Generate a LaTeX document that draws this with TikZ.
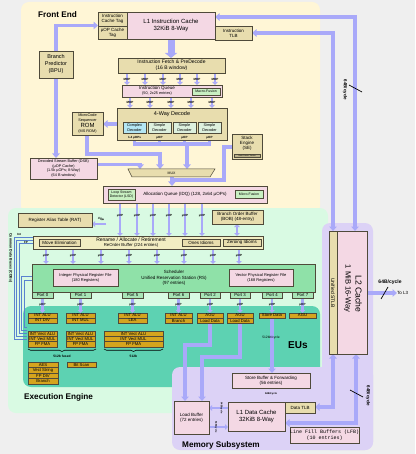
\documentclass[tikz,border=0pt]{standalone}
\usepackage{fontspec}
\setmainfont{Liberation Sans}
\newfontfamily\lfbmono{Liberation Mono}
\usetikzlibrary{arrows.meta,decorations.pathreplacing,calc}
\definecolor{bgc}{HTML}{EFEFEF}
\definecolor{fec}{HTML}{FFF6D6}
\definecolor{eec}{HTML}{D9FAE3}
\definecolor{euc}{HTML}{5DD2B2}
\definecolor{memc}{HTML}{DCD2F6}
\definecolor{tanc}{HTML}{E8DDAE}
\definecolor{pinkc}{HTML}{F4D8E4}
\definecolor{grnc}{HTML}{C8EFC2}
\definecolor{cyanc}{HTML}{B4E6F4}
\definecolor{simc}{HTML}{DDF0DE}
\definecolor{robc}{HTML}{F2EDC2}
\definecolor{schedc}{HTML}{8FE1A8}
\definecolor{portc}{HTML}{A9E5B7}
\definecolor{goldc}{HTML}{D5A41E}
\definecolor{busc}{HTML}{A9A9F9}
\definecolor{linec}{HTML}{4F4A3A}
\definecolor{cdbc}{HTML}{5A82CF}
\newcommand\fs[2]{\fontsize{#1}{#2}\selectfont}
\newcommand\bx[7]{\node[#6,minimum width={(#4)-(#2)},minimum height={(#5)-(#3)}] (#1) at ({((#2)+(#4))/2},{((#3)+(#5))/2}) {#7};}
\pgfdeclarelayer{panels}
\pgfdeclarelayer{lines}
\pgfsetlayers{panels,lines,main}
\begin{document}
\begin{tikzpicture}[x=1pt,y=-1pt,
  box/.style={draw=linec,line width=0.5pt,inner sep=0pt,outer sep=0pt,align=center,font=\fs{4.5}{5}},
  tan/.style={box,fill=tanc},
  pnk/.style={box,fill=pinkc},
  grn/.style={box,fill=grnc,font=\fs{3.5}{4}},
  eub/.style={box,fill=goldc,font=\fs{4.2}{4.5}},
  portb/.style={box,fill=portc,font=\fs{4.3}{4.5}},
  lbl/.style={inner sep=0pt,outer sep=0pt,align=center,font=\fs{4.5}{5}},
  tinylbl/.style={inner sep=0pt,font=\fs{3}{3}\bfseries},
  ttl/.style={inner sep=0pt,anchor=west,font=\fs{8.2}{9}\bfseries},
  bus/.style={draw=busc,line width=3.2pt},
  bar/.style={bus,-{Triangle[width=7.5pt,length=4.5pt]}},
  bbar/.style={bus,{Triangle[width=7.5pt,length=4.5pt]}-{Triangle[width=7.5pt,length=4.5pt]}},
  mop/.style={draw=busc,line width=2.6pt,-{Triangle[width=5.5pt,length=3pt]}},
  bmop/.style={draw=busc,line width=2.6pt,{Triangle[width=5.5pt,length=3pt]}-{Triangle[width=5.5pt,length=3pt]}},
  cdb/.style={draw=cdbc,line width=0.45pt},
  slash/.style={draw=black,line width=0.7pt}]
\useasboundingbox (0,0) rectangle (415,454);
\begin{pgfonlayer}{panels}
\fill[bgc] (0,0) rectangle (415,454);
\fill[fec,rounded corners=8pt] (21,2) rectangle (320,214);
\fill[eec,rounded corners=8pt] (8,208) rectangle (328,413);
\fill[euc,rounded corners=8pt] (23,306) rectangle (320,387);
\fill[memc,rounded corners=8pt] (322,223) rectangle (373,450);
\fill[memc,rounded corners=8pt] (172,367) rectangle (373,450);
\end{pgfonlayer}

% ---------------- Front End ----------------
\node[ttl] (fetitle) at (38,15) {Front End};
\bx{ictag}{98}{12}{127}{26}{tan}{Instruction\\Cache Tag}
\bx{uoptag}{98}{26}{127}{39}{tan}{µOP Cache\\Tag}
\bx{l1i}{127}{12}{215}{39}{pnk,font=\fs{6}{7.5}}{L1 Instruction Cache\\32KiB 8-Way}
\bx{itlb}{215}{26}{252}{40}{tan}{Instruction\\TLB}
\bx{bpu}{39}{51}{73}{78}{tan,font=\fs{5.5}{7}}{Branch\\Predictor\\(BPU)}
\bx{fetch}{118}{58}{225}{73}{tan,font=\fs{5}{6}}{Instruction Fetch \& PreDecode\\(16 B window)}
\bx{iq}{122}{85}{222}{97}{pnk}{}
\node[lbl,font=\fs{4.5}{4.6}] (iqt) at (157,91) {Instruction Queue\\{\fs{3.8}{4}(50, 2x25 entries)}};
\bx{mf1}{192}{88}{220}{95}{grn}{Macro-Fusion}
\bx{dec}{117}{108}{227}{140}{tan}{}
\node[lbl,font=\fs{5.5}{6}] (dect) at (172,114.5) {4-Way Decode};
\bx{cdec}{123}{122}{146}{133}{box,fill=cyanc,font=\fs{3.8}{4.3}}{Complex\\Decoder}
\bx{sdec1}{148}{122}{171}{133}{box,fill=simc,font=\fs{3.8}{4.3}}{Simple\\Decoder}
\bx{sdec2}{173}{122}{196}{133}{box,fill=simc,font=\fs{3.8}{4.3}}{Simple\\Decoder}
\bx{sdec3}{198}{122}{221}{133}{box,fill=simc,font=\fs{3.8}{4.3}}{Simple\\Decoder}
\node[tinylbl] (dl0) at (134.5,137.6) {1-4 µOPs};
\node[tinylbl] (dl1) at (159.5,137.6) {µOP};
\node[tinylbl] (dl2) at (184.5,137.6) {µOP};
\node[tinylbl] (dl3) at (209.5,137.6) {µOP};
\bx{msrom}{72}{112}{103}{135}{tan,font=\fs{3.8}{4.6}}{MicroCode\\Sequencer\\{\fs{6}{6}ROM}\\(MS ROM)}
\bx{se}{232}{134}{262}{159}{tan}{}
\node[lbl,font=\fs{4.5}{5}] (set) at (247,143) {Stack\\Engine\\(SE)};
\bx{sesp}{234}{154.3}{260}{157.6}{box,fill=tanc!80!black,line width=0.4pt,font=\fs{1.8}{2}}{Stack Pointer Tracker}
\bx{dsb}{30}{158}{97}{179}{pnk,font=\fs{3.8}{4.7}}{Decoded Stream Buffer (DSB)\\(µOP Cache)\\(1.5k µOPs; 8-Way)\\(64 B window)}
\fill[tanc,draw=linec,line width=0.5pt] (128,169) -- (215,169) -- (210,177) -- (132,177) -- cycle;
\node[lbl,minimum width=87pt,minimum height=8pt,font=\fs{3.5}{4}] (mux) at (171.5,173) {MUX};
\bx{idq}{103}{186}{267}{203}{pnk}{}
\node[lbl] (idqt) at (185,194.5) {Allocation Queue (IDQ) (128, 2x64 µOPs)};
\bx{lsd}{108}{189}{135}{200}{grn}{Loop Stream\\Detector (LSD)}
\bx{mf2}{235}{190}{263}{198}{grn}{Micro-Fusion}

% ---------------- Execution Engine ----------------
\node[ttl] (eetitle) at (24,397) {Execution Engine};
\bx{rat}{18}{213}{92}{227}{tan}{Register Alias Table (RAT)}
\bx{bob}{212}{210}{263}{224}{tan}{Branch Order Buffer\\(BOB) (48-entry)}
\bx{rob}{33}{236}{263}{249}{box,fill=robc}{}
\node[lbl,font=\fs{5}{5}] (robt) at (131,239.6) {Rename / Allocate / Retirement};
\node[lbl,font=\fs{4.3}{4.3}] (robt2) at (131,245.2) {ReOrder Buffer (224 entries)};
\bx{moveel}{39}{239}{80}{246}{tan}{Move Elimination}
\bx{ones}{182}{239}{220}{246}{tan}{Ones Idioms}
\bx{zero}{223}{239}{261}{246}{tan}{Zeroing Idioms}
\bx{sched}{32}{264}{315}{292}{box,fill=schedc}{}
\node[lbl,font=\fs{4.5}{5.6}] (schedt) at (174,278) {Scheduler\\Unified Reservation Station (RS)\\(97 entries)};
\bx{iprf}{53}{269}{118}{286}{pnk,font=\fs{4}{5}}{Integer Physical Register File\\(180 Registers)}
\bx{vprf}{229}{269}{293}{286}{pnk,font=\fs{4}{5}}{Vector Physical Register File\\(168 Registers)}
\bx{p0}{32}{292}{53}{298}{portb}{Port 0}
\bx{p1}{70}{292}{91}{298}{portb}{Port 1}
\bx{p5}{122}{292}{143}{298}{portb}{Port 5}
\bx{p6}{168}{292}{189}{298}{portb}{Port 6}
\bx{p2}{200}{292}{220}{298}{portb}{Port 2}
\bx{p3}{230}{292}{250}{298}{portb}{Port 3}
\bx{p4}{262}{292}{282}{298}{portb}{Port 4}
\bx{p7}{292}{292}{313}{298}{portb}{Port 7}
% EUs
\node[ttl,font=\fs{10}{11}\bfseries] (eutitle) at (288,345) {EUs};
\bx{e0a}{28}{313}{57}{318}{eub}{INT ALU}
\bx{e0b}{28}{318}{57}{323}{eub}{INT DIV}
\bx{e1a}{66}{313}{95}{318}{eub}{INT ALU}
\bx{e1b}{66}{318}{95}{323}{eub}{INT MUL}
\bx{e5a}{118}{313}{147}{318}{eub}{INT ALU}
\bx{e5b}{118}{318}{147}{323}{eub}{LEA}
\bx{e6a}{165}{313}{192}{318}{eub}{INT ALU}
\bx{e6b}{165}{318}{192}{323}{eub}{Branch}
\bx{e2a}{197}{313}{223}{318}{eub}{AGU}
\bx{e2b}{197}{318}{223}{323}{eub}{Load Data}
\bx{e3a}{227}{313}{253}{318}{eub}{AGU}
\bx{e3b}{227}{318}{253}{323}{eub}{Load Data}
\bx{e4a}{259}{313}{285}{318}{eub}{Store Data}
\bx{e7a}{289}{313}{316}{318}{eub}{AGU}
\bx{v0a}{28}{331}{57}{336.3}{eub}{INT Vect ALU}
\bx{v0b}{28}{336.3}{57}{341.6}{eub}{INT Vect MUL}
\bx{v0c}{28}{341.6}{57}{347}{eub}{FP FMA}
\bx{v1a}{66}{331}{95}{336.3}{eub}{INT Vect ALU}
\bx{v1b}{66}{336.3}{95}{341.6}{eub}{INT Vect MUL}
\bx{v1c}{66}{341.6}{95}{347}{eub}{FP FMA}
\bx{v5a}{104}{331}{163}{336.3}{eub}{INT Vect ALU}
\bx{v5b}{104}{336.3}{163}{341.6}{eub}{INT Vect MUL}
\bx{v5c}{104}{341.6}{163}{347}{eub}{FP FMA}
\bx{x0a}{28}{362}{58}{367.5}{eub}{AES}
\bx{x0b}{28}{367.5}{58}{373}{eub}{Vect String}
\bx{x0c}{28}{373}{58}{378.5}{eub}{FP DIV}
\bx{x0d}{28}{378.5}{58}{384}{eub}{Branch}
\bx{x1a}{67}{362}{96}{367}{eub}{Bit Scan}
\draw[decorate,decoration={brace,amplitude=2.5pt},line width=0.6pt] (96,349) -- (28,349);
\draw[decorate,decoration={brace,amplitude=2.5pt},line width=0.6pt] (163,349) -- (104,349);
\node[tinylbl,font=\fs{3.3}{3.5}\bfseries] (b01) at (62,356) {512b fused};
\node[tinylbl,font=\fs{3.3}{3.5}\bfseries] (b5) at (133.5,356) {512b};
% CDB
\node[lbl,rotate=-90,font=\fs{3.6}{4}\bfseries] (cdbt) at (10.5,258) {Common Data Buses (CDBs)};
\node[tinylbl] (cdbi) at (19,234.5) {Int};
\node[tinylbl] (cdbf) at (26,242.5) {FP};

% ---------------- Memory Subsystem ----------------
\node[ttl] (mstitle) at (182,445) {Memory Subsystem};
\bx{sb}{232}{373}{310}{388}{pnk}{Store Buffer \& Forwarding\\(56 entries)}
\bx{lb}{174}{401}{209}{434}{pnk}{Load Buffer\\(72 entries)}
\bx{l1d}{228}{402}{285}{431}{pnk,font=\fs{6}{7.5}}{L1 Data Cache\\32KiB 8-Way}
\bx{dtlb}{285}{402}{315}{413}{tan}{Data TLB}
\bx{lfb}{295}{427}{354}{443}{pnk,font=\lfbmono\fs{5}{6}}{Line Fill Buffers (LFB)\\(10 entries)}
\node[tinylbl,font=\fs{2.6}{3}\bfseries] (sbl) at (271,393.5) {64B/cycle};

% ---------------- L2 ----------------
\bx{stlb}{329}{231}{337}{354}{tan}{}
\node[lbl,rotate=-90,font=\fs{5}{5}] (stlbt) at (333,293) {Unified STLB};
\bx{l2}{337}{231}{367}{354}{pnk}{}
\node[lbl,rotate=-90,align=right,font=\fs{8.6}{10}] (l2t) at (353,288.5) {L2 Cache\\{\fs{7.6}{10}1 MiB 16-Way}};
\node[lbl,anchor=west,font=\fs{4.5}{5}] (tol3) at (397,293) {To L3};
\node[lbl,font=\fs{5}{5}\bfseries] (l3bw) at (390,282) {64B/cycle};
\node[lbl,rotate=-90,font=\fs{4.5}{5}\bfseries] (topbw) at (345,90) {64B/cycle};
\node[lbl,rotate=-90,font=\fs{4.5}{5}\bfseries] (botbw) at (368,396) {64B/cycle};

% ---------------- connectors ----------------
\begin{pgfonlayer}{lines}
\coordinate (t1) at (355,17);
\coordinate (t2) at (333,33);
\draw[bbar] (l2.north -| t1) -- (t1) -- (l1i.east |- t1);
\draw[bbar] (stlb.north -| t2) -- (t2) -- (itlb.east |- t2);
\coordinate (tagj) at (98,25.5);
\draw[bar] (bpu.north) -- (bpu.north |- tagj) -- (tagj);
\draw[bar] (bpu.south) -- (dsb.north -| bpu.south);
\draw[draw=busc,line width=7pt,-{Triangle[width=12pt,length=5pt]}] (l1i.south) -- (fetch.north -| l1i.south);
\foreach \x in {127,145,163,180,197,215}{
  \draw[mop] (fetch.south -| \x,0) -- (iq.north -| \x,0);
  \node[tinylbl] at (\x,79) {MOP};}
\foreach \x in {130,150,171,191,212}{
  \draw[mop] (iq.south -| \x,0) -- (dec.north -| \x,0);
  \node[tinylbl] at (\x,102.5) {MOP};}
\draw[bar] (dec.west) -- (msrom.east |- dec.west);
\coordinate (dbar) at (0,144);
\coordinate (dj) at (187,144);
\draw[bus] (dec.south -| cdec) -- (cdec |- dbar) -- (sdec3 |- dbar) -- (dec.south -| sdec3);
\draw[bus] (dec.south -| sdec1) -- (sdec1 |- dbar);
\draw[bus] (dec.south -| sdec2) -- (sdec2 |- dbar);
\draw[bar] (dj) -- (mux.north -| dj);
\coordinate (msa) at (87,154);
\coordinate (msb) at (160,154);
\draw[bar] (msrom.south -| msa) -- (msa) -- (msb) -- (mux.north -| msb);
\coordinate (dsa) at (140,164.5);
\draw[bar] (dsb.east |- dsa) -- (dsa) -- (mux.north -| dsa);
\coordinate (sea) at (224,147);
\coordinate (seb) at (224,180);
\coordinate (sec) at (172,180);
\draw[bus] (se.west |- sea) -- (sea) -- (seb) -- (sec);
\draw[bar] (mux.south -| sec) -- (idq.north -| sec);
\foreach \x in {120,137,153,169,185,202}{
  \draw[mop] (idq.south -| \x,0) -- (rob.north -| \x,0);
  \node[tinylbl] at (\x,216) {µOP};}
\coordinate (ratc) at (106,224);
\draw[mop] (ratc) -- (rat.east |- ratc);
\node[tinylbl,rotate=-30] at (101,219.5) {µOP};
\draw[bmop] (bob.south -| 237,0) -- (rob.north -| 237,0);
\foreach \x in {46,73,101,129,157,184,213,239}{
  \draw[mop] (rob.south -| \x,0) -- (sched.north -| \x,0);
  \node[tinylbl] at (\x,255.5) {µOP};}
\foreach \p/\e in {p0/e0a,p1/e1a,p5/e5a,p6/e6a,p2/e2a,p3/e3a,p4/e4a,p7/e7a}{
  \draw[mop] (\p.south) -- (\e.north);
  \node[tinylbl] at ($(\p.south)!0.45!(\e.north)$) {µOP};}
\draw[bar] (e4a.south) -- (sb.north -| e4a.south);
\node[tinylbl,font=\fs{3.3}{3.5}] at (271,338) {512bit/cycle};
\coordinate (la) at (210,345);
\coordinate (lbb) at (185,345);
\draw[bar] (e2b.south) -- (la) -- (lbb) -- (lb.north -| lbb);
\coordinate (lc) at (240,357);
\coordinate (ld) at (202,357);
\draw[bar] (e3b.south) -- (lc) -- (ld) -- (lb.north -| ld);
\coordinate (lu) at (0,408);
\coordinate (lw) at (0,427);
\draw[mop] (l1d.west |- lu) -- (lb.east |- lu);
\draw[mop] (lb.east |- lw) -- (l1d.west |- lw);
\node[tinylbl,rotate=-90,font=\fs{2.4}{3}\bfseries] at (221.5,408) {64B/cycle};
\node[tinylbl,rotate=-90,font=\fs{2.4}{3}\bfseries] at (216,427) {64B/cycle};
\coordinate (da) at (333,407);
\coordinate (db) at (356,423);
\draw[bbar] (stlb.south -| da) -- (da) -- (dtlb.east |- da);
\draw[bbar] (l2.south -| db) -- (db) -- (l1d.east |- db);
\draw[bar] (l2.east |- tol3) -- (tol3.west);
\draw[cdb] (rob.west |- 0,237.5) -| (14,339) -- (26.5,339);
\draw[cdb] (rob.west |- 0,240.5) -| (16.5,336) -- (26.5,336);
\draw[cdb] (rob.west |- 0,243.5) -| (19,333) -- (26.5,333);
\draw[cdb] (sched.west |- 0,276) -| (21.5,330) -- (26.5,330);
\draw[cdb] (sched.west |- 0,280) -| (24,327) -- (26.5,327);
\end{pgfonlayer}
\draw[slash] (349,85) -- (362,92);
\draw[slash] (350,390) -- (363,397);
\draw[slash] (381,299) -- (388,287);
\end{tikzpicture}
\end{document}
